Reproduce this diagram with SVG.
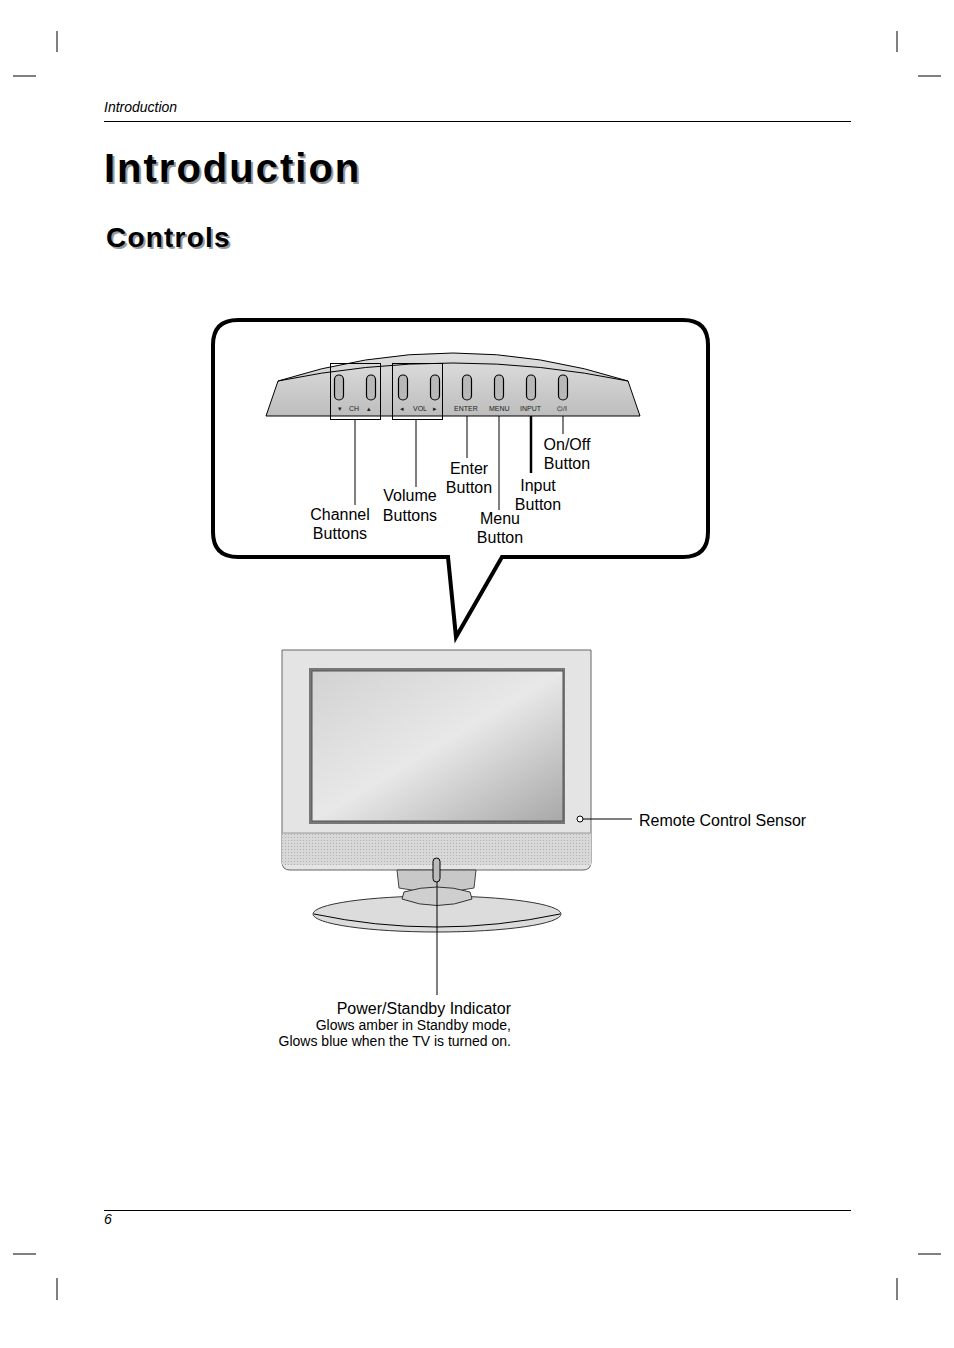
<svg xmlns="http://www.w3.org/2000/svg" width="954" height="1348" viewBox="0 0 954 1348">
<style>
.t{font-family:"Liberation Sans",Arial,sans-serif;fill:#000}
.l{stroke:#000;stroke-width:1;fill:none}
.b{fill:#b8b8b8;stroke:#000;stroke-width:1.2}
.s{font-family:"Liberation Sans",Arial,sans-serif;font-size:7px;fill:#222}
</style>
<defs>
<linearGradient id="scr" x1="0" y1="0" x2="1" y2="1"><stop offset="0" stop-color="#d2d2d2"/><stop offset="0.5" stop-color="#e8e8e8"/><stop offset="1" stop-color="#a8a8a8"/></linearGradient>
<linearGradient id="bar" x1="0" y1="0" x2="0" y2="1"><stop offset="0" stop-color="#e0e0e0"/><stop offset="1" stop-color="#bdbdbd"/></linearGradient>
<pattern id="mesh" width="3" height="3" patternUnits="userSpaceOnUse"><rect width="3" height="3" fill="#d8d8d8"/><rect width="1" height="1" fill="#b0b0b0"/></pattern>
</defs>
<g id="page">
<g class="l"><path d="M57 31V52M897 31V52M13 76H36M918 76H941M57 1278V1300M897 1278V1300M13 1254H36M918 1254H941"/></g>
<text class="t" x="104" y="112" font-size="14" font-style="italic">Introduction</text>
<line x1="104" y1="121.5" x2="851" y2="121.5" stroke="#000"/>
<text x="106" y="184" font-size="40" font-weight="bold" font-family="Liberation Sans,Arial,sans-serif" fill="#999" letter-spacing="2">Introduction</text>
<text class="t" x="104" y="182" font-size="40" font-weight="bold" letter-spacing="2">Introduction</text>
<text x="108" y="249" font-size="28" font-weight="bold" font-family="Liberation Sans,Arial,sans-serif" fill="#999" letter-spacing="1.2">Controls</text>
<text class="t" x="106" y="247" font-size="28" font-weight="bold" letter-spacing="1.2">Controls</text>
<line x1="104" y1="1210.5" x2="851" y2="1210.5" stroke="#000"/>
<text class="t" x="104" y="1224" font-size="14" font-style="italic">6</text>
</g>
<g id="callout">
<path d="M238 320H683Q708 320 708 345V532Q708 557 683 557H502L456 637L448 557H238Q213 557 213 532V345Q213 320 238 320Z" fill="#fff" stroke="#000" stroke-width="4" stroke-linejoin="miter"/>
</g>
<g id="panel">
<path d="M266 416L278 381Q453 325 628 381L640 416Z" fill="url(#bar)" stroke="#000"/>
<path d="M278 381Q453 345 628 381" class="l"/>
<g class="b">
<rect x="334.5" y="375" width="9" height="25" rx="4.5"/><rect x="366.5" y="375" width="9" height="25" rx="4.5"/>
<rect x="398.5" y="375" width="9" height="25" rx="4.5"/><rect x="430.5" y="375" width="9" height="25" rx="4.5"/>
<rect x="462.5" y="375" width="9" height="25" rx="4.5"/><rect x="494.5" y="375" width="9" height="25" rx="4.5"/>
<rect x="526.5" y="375" width="9" height="25" rx="4.5"/><rect x="558.5" y="375" width="9" height="25" rx="4.5"/>
</g>
<text class="s" x="338" y="411">▾</text><text class="s" x="349" y="411">CH</text><text class="s" x="367" y="411">▴</text>
<text class="s" x="400" y="411">◂</text><text class="s" x="413" y="411">VOL</text><text class="s" x="433" y="411">▸</text>
<text class="s" x="454" y="411">ENTER</text><text class="s" x="489" y="411">MENU</text><text class="s" x="520" y="411">INPUT</text><text class="s" x="557" y="411">⏻/I</text>
<rect x="330.5" y="363.5" width="50" height="56" class="l"/>
<rect x="392.5" y="363.5" width="50" height="56" class="l"/>
</g>
<g id="tv">
<path d="M282 650H591V862Q591 870 583 870H290Q282 870 282 862Z" fill="#e4e4e4" stroke="#666"/>
<rect x="282" y="833" width="309" height="32" fill="url(#mesh)"/>
<line x1="282" y1="833" x2="591" y2="833" stroke="#999"/>
<rect x="309" y="668" width="256" height="156" fill="#777"/>
<rect x="312" y="671" width="251" height="150" fill="url(#scr)" stroke="#555"/>
<path d="M397 870H476L474 888Q437 896 399 888Z" fill="#c8c8c8" stroke="#444"/>
<ellipse cx="437" cy="914" rx="124" ry="18" fill="#dcdcdc" stroke="#333"/>
<path d="M314 914Q437 940 560 914" class="l"/>
<path d="M402 899Q437 912 472 899L470 892Q437 882 404 892Z" fill="#cfcfcf" stroke="#333"/>
<rect x="433" y="858" width="7" height="24" rx="3.5" fill="#bbb" stroke="#000"/>
<circle cx="580" cy="819" r="3" fill="#fff" stroke="#000"/>
</g>
<g id="connectors" class="l">
<line x1="355" y1="419" x2="355" y2="505"/>
<line x1="416" y1="419" x2="416" y2="487"/>
<line x1="467" y1="416" x2="467" y2="458"/>
<line x1="499" y1="416" x2="499" y2="510"/>
<line x1="531" y1="416" x2="531" y2="473" stroke-width="2.5"/>
<line x1="563" y1="416" x2="563" y2="434"/>
<line x1="583" y1="819" x2="632" y2="819"/>
<line x1="437" y1="882" x2="437" y2="995"/>
</g>
<g id="labels" class="t" font-size="16">
<text x="340" y="520" text-anchor="middle">Channel</text><text x="340" y="539" text-anchor="middle">Buttons</text>
<text x="410" y="501" text-anchor="middle">Volume</text><text x="410" y="521" text-anchor="middle">Buttons</text>
<text x="469" y="474" text-anchor="middle">Enter</text><text x="469" y="493" text-anchor="middle">Button</text>
<text x="500" y="524" text-anchor="middle">Menu</text><text x="500" y="543" text-anchor="middle">Button</text>
<text x="538" y="491" text-anchor="middle">Input</text><text x="538" y="510" text-anchor="middle">Button</text>
<text x="567" y="450" text-anchor="middle">On/Off</text><text x="567" y="469" text-anchor="middle">Button</text>
<text x="639" y="826">Remote Control Sensor</text>
<text x="511" y="1014" text-anchor="end">Power/Standby Indicator</text>
<text x="511" y="1030" text-anchor="end" font-size="14">Glows amber in Standby mode,</text>
<text x="511" y="1046" text-anchor="end" font-size="14">Glows blue when the TV is turned on.</text>
</g>
</svg>
